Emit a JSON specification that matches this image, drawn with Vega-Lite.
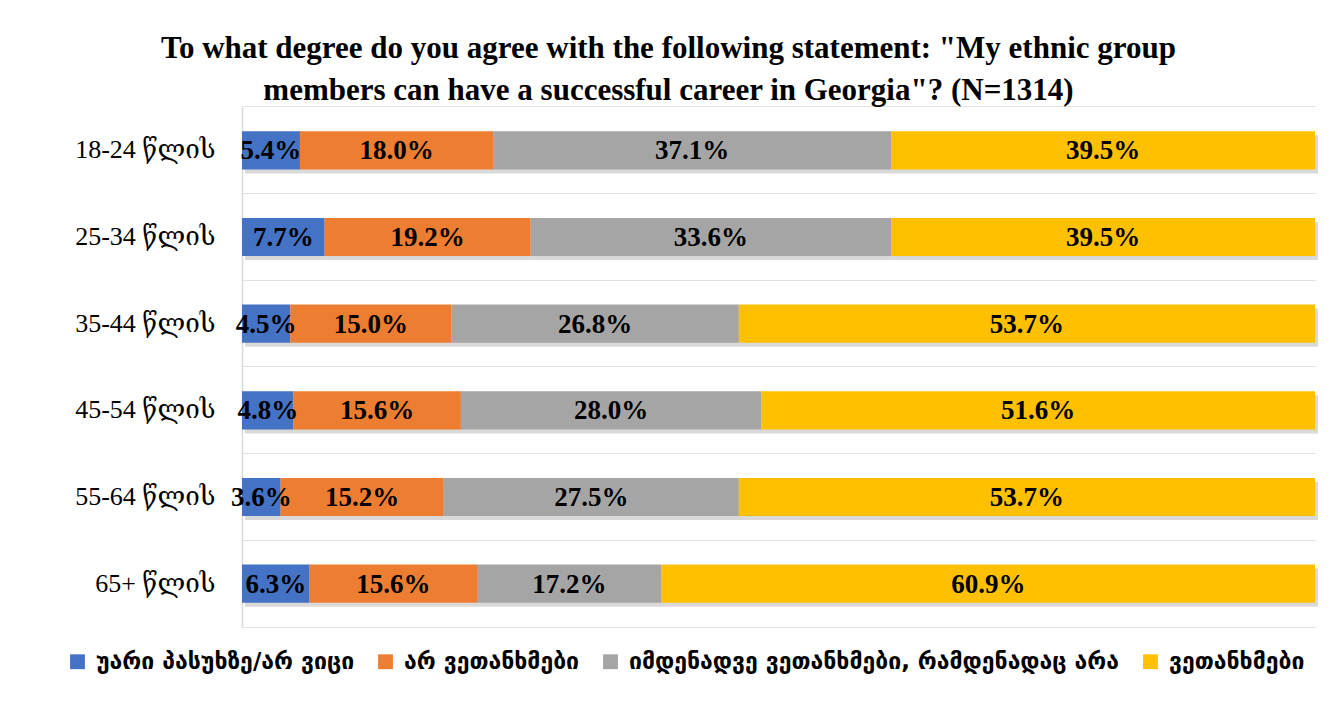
{
  "$schema": "https://vega.github.io/schema/vega-lite/v6.json",
  "autosize": "none",
  "width": 1073,
  "height": 520,
  "padding": {"left": 242, "top": 107, "right": 15, "bottom": 80},
  "background": "white",
  "config": {"view": {"stroke": null}},
  "title": {
    "text": ["To what degree do you agree with the following statement: \"My ethnic group", "members can have a successful career in Georgia\"? (N=1314)"],
    "anchor": "middle",
    "dx": -110,
    "offset": 0,
    "font": "Liberation Serif, DejaVu Serif",
    "fontSize": 31,
    "fontWeight": "bold",
    "color": "#000000",
    "lineHeight": 42
  },
  "data": {
    "values": [
      {"age": "18-24 წლის", "answer": "უარი პასუხზე/არ ვიცი", "order": 1, "pct": 5.4},
      {"age": "18-24 წლის", "answer": "არ ვეთანხმები", "order": 2, "pct": 18.0},
      {"age": "18-24 წლის", "answer": "იმდენადვე ვეთანხმები, რამდენადაც არა", "order": 3, "pct": 37.1},
      {"age": "18-24 წლის", "answer": "ვეთანხმები", "order": 4, "pct": 39.5},
      {"age": "25-34 წლის", "answer": "უარი პასუხზე/არ ვიცი", "order": 1, "pct": 7.7},
      {"age": "25-34 წლის", "answer": "არ ვეთანხმები", "order": 2, "pct": 19.2},
      {"age": "25-34 წლის", "answer": "იმდენადვე ვეთანხმები, რამდენადაც არა", "order": 3, "pct": 33.6},
      {"age": "25-34 წლის", "answer": "ვეთანხმები", "order": 4, "pct": 39.5},
      {"age": "35-44 წლის", "answer": "უარი პასუხზე/არ ვიცი", "order": 1, "pct": 4.5},
      {"age": "35-44 წლის", "answer": "არ ვეთანხმები", "order": 2, "pct": 15.0},
      {"age": "35-44 წლის", "answer": "იმდენადვე ვეთანხმები, რამდენადაც არა", "order": 3, "pct": 26.8},
      {"age": "35-44 წლის", "answer": "ვეთანხმები", "order": 4, "pct": 53.7},
      {"age": "45-54 წლის", "answer": "უარი პასუხზე/არ ვიცი", "order": 1, "pct": 4.8},
      {"age": "45-54 წლის", "answer": "არ ვეთანხმები", "order": 2, "pct": 15.6},
      {"age": "45-54 წლის", "answer": "იმდენადვე ვეთანხმები, რამდენადაც არა", "order": 3, "pct": 28.0},
      {"age": "45-54 წლის", "answer": "ვეთანხმები", "order": 4, "pct": 51.6},
      {"age": "55-64 წლის", "answer": "უარი პასუხზე/არ ვიცი", "order": 1, "pct": 3.6},
      {"age": "55-64 წლის", "answer": "არ ვეთანხმები", "order": 2, "pct": 15.2},
      {"age": "55-64 წლის", "answer": "იმდენადვე ვეთანხმები, რამდენადაც არა", "order": 3, "pct": 27.5},
      {"age": "55-64 წლის", "answer": "ვეთანხმები", "order": 4, "pct": 53.7},
      {"age": "65+ წლის", "answer": "უარი პასუხზე/არ ვიცი", "order": 1, "pct": 6.3},
      {"age": "65+ წლის", "answer": "არ ვეთანხმები", "order": 2, "pct": 15.6},
      {"age": "65+ წლის", "answer": "იმდენადვე ვეთანხმები, რამდენადაც არა", "order": 3, "pct": 17.2},
      {"age": "65+ წლის", "answer": "ვეთანხმები", "order": 4, "pct": 60.9}
    ]
  },
  "transform": [
    {"calculate": "format(datum.pct, '.1f') + '%'", "as": "label"}
  ],
  "encoding": {
    "y": {
      "field": "age",
      "type": "nominal",
      "sort": ["18-24 წლის", "25-34 წლის", "35-44 წლის", "45-54 წლის", "55-64 წლის", "65+ წლის"],
      "scale": {"paddingInner": 0.56, "paddingOuter": 0.28},
      "axis": {
        "title": null,
        "ticks": false,
        "grid": true,
        "bandPosition": -0.6364,
        "gridColor": "#e2e2e2",
        "gridWidth": 1,
        "domainColor": "#d9d9d9",
        "domainWidth": 1.5,
        "labelFont": "Liberation Serif, DejaVu Serif",
        "labelFontSize": 26,
        "labelColor": "#000000",
        "labelPadding": 27
      }
    },
    "order": {"field": "order", "type": "quantitative"}
  },
  "layer": [
    {
      "mark": {"type": "bar", "color": "#000000", "opacity": 0.15, "xOffset": 3, "yOffset": 4},
      "encoding": {
        "x": {
          "field": "pct", "type": "quantitative", "stack": "zero",
          "scale": {"domain": [0, 100], "nice": false},
          "axis": {"title": null, "labels": false, "ticks": false, "grid": false, "domain": true, "domainColor": "#e2e2e2", "domainWidth": 1}
        }
      }
    },
    {
      "mark": {"type": "bar"},
      "encoding": {
        "x": {"field": "pct", "type": "quantitative", "stack": "zero"},
        "color": {
          "field": "answer",
          "type": "nominal",
          "scale": {
            "domain": ["უარი პასუხზე/არ ვიცი", "არ ვეთანხმები", "იმდენადვე ვეთანხმები, რამდენადაც არა", "ვეთანხმები"],
            "range": ["#4472C4", "#ED7D31", "#A5A5A5", "#FFC000"]
          },
          "legend": {
            "title": null,
            "orient": "none",
            "direction": "horizontal",
            "columns": 4,
            "legendX": -176,
            "legendY": 543,
            "symbolType": "square",
            "symbolSize": 220,
            "symbolStrokeWidth": 0,
            "labelFont": "DejaVu Sans",
            "labelFontWeight": "bold",
            "labelFontSize": 23,
            "labelColor": "#000000",
            "labelLimit": 700,
            "labelOffset": 7,
            "columnPadding": 19
          }
        }
      }
    },
    {
      "mark": {"type": "text", "font": "Liberation Serif, DejaVu Serif", "fontSize": 27, "fontWeight": "bold", "color": "#000000", "baseline": "middle", "align": "center", "dy": 1},
      "encoding": {
        "x": {"field": "pct", "type": "quantitative", "stack": "zero", "bandPosition": 0.5},
        "text": {"field": "label"}
      }
    }
  ]
}
